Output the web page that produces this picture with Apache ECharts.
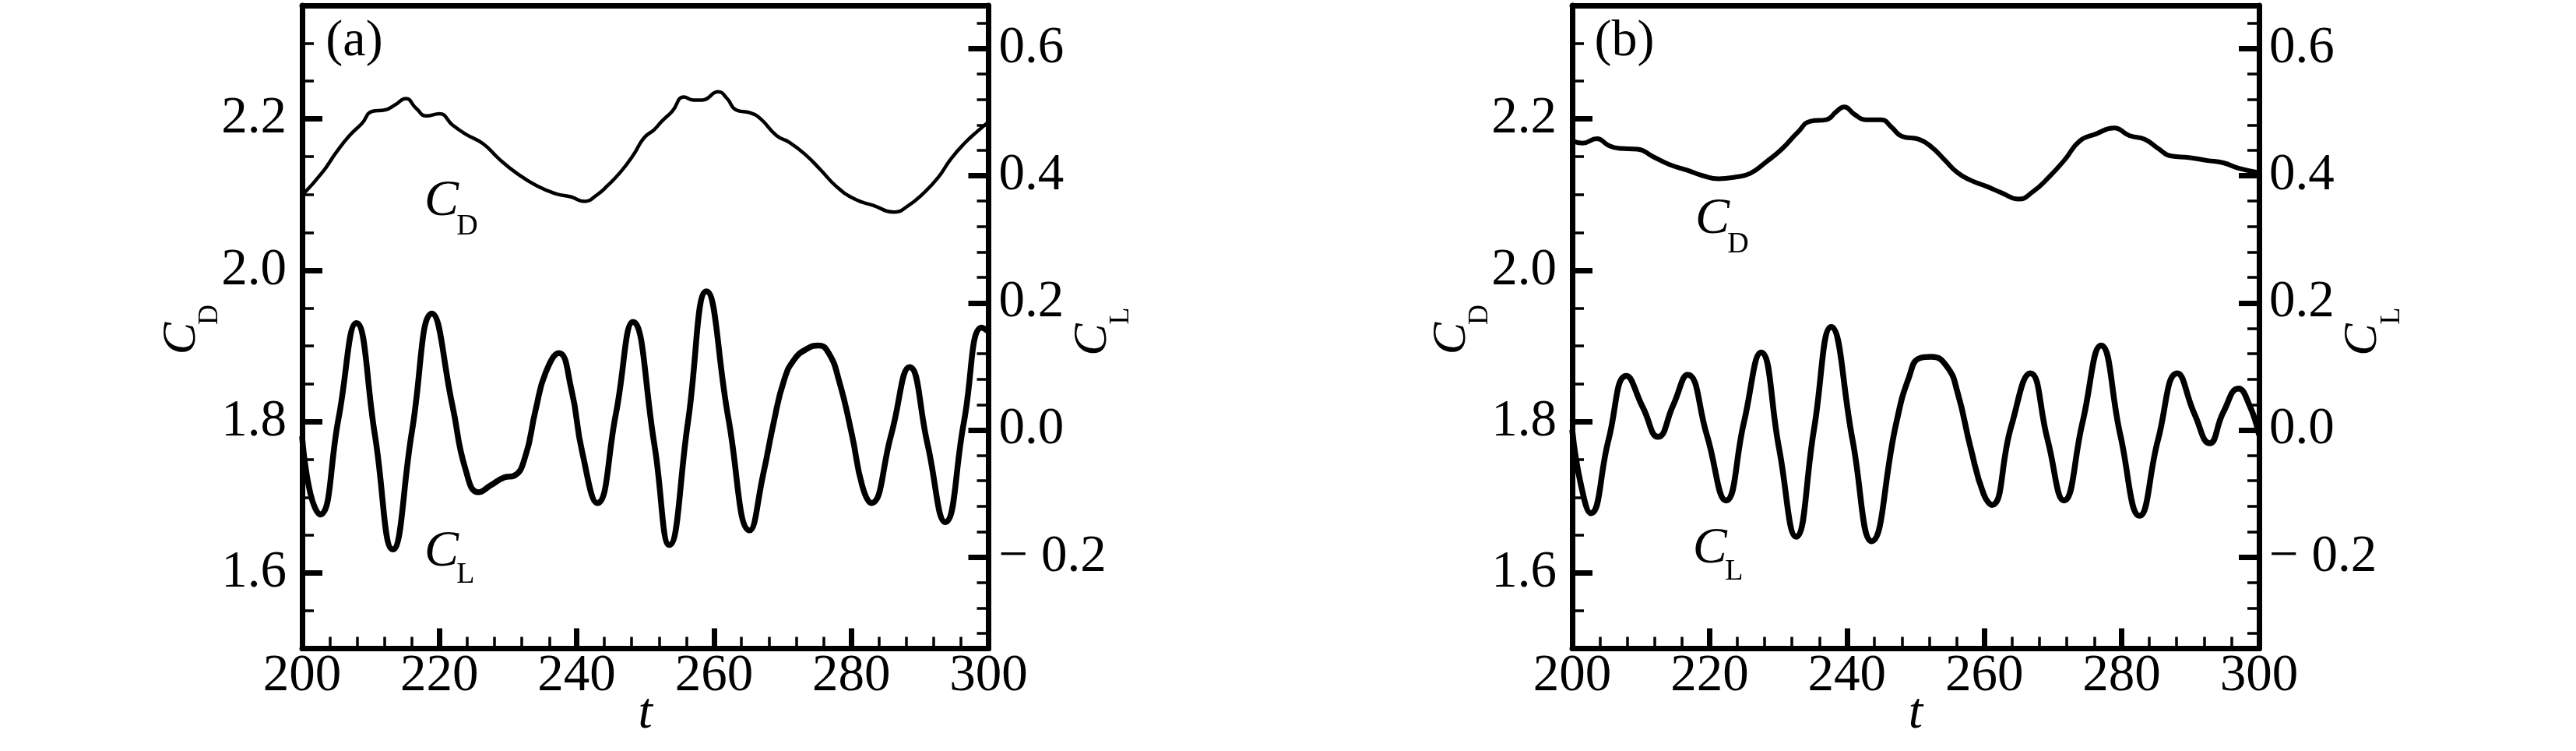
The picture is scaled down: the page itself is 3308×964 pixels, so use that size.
<!DOCTYPE html>
<html><head><meta charset="utf-8">
<script src="https://cdn.jsdelivr.net/npm/echarts@6/dist/echarts.min.js"></script>
<style>html,body{margin:0;padding:0;background:#fff}#c{width:3308px;height:964px}</style>
</head><body><div id="c"></div>
<script>
// ---------- data ----------
const tA_CL = [200, 201.2, 202.6, 205.3, 207.9, 210.6, 213.2, 216.0, 218.9, 221.9, 223.8, 225.7, 227.5, 229.4, 230.9, 232.5, 234.0, 235.5, 237.4, 239.2, 240.8, 243.0, 245.7, 248.2, 251.3, 253.5, 256.2, 258.9, 262.1, 265.2, 267.2, 268.7, 270.2, 271.7, 273.6, 275.2, 276.7, 278.2, 280.1, 281.6, 282.9, 285.8, 288.5, 291.1, 293.7, 296.4, 299.0, 300];
const clA = [-0.01, -0.10, -0.133, 0.018, 0.168, -0.008, -0.188, -0.002, 0.183, 0.038, -0.062, -0.098, -0.087, -0.075, -0.072, -0.042, 0.031, 0.091, 0.121, 0.065, -0.035, -0.115, 0.025, 0.170, -0.022, -0.181, 0.012, 0.218, 0.018, -0.158, -0.068, 0.012, 0.078, 0.111, 0.128, 0.133, 0.121, 0.078, -0.008, -0.088, -0.115, -0.008, 0.099, -0.022, -0.145, 0.012, 0.161, 0.155];

const tA_CD = [200, 203.0, 204.9, 206.8, 208.7, 210.2, 212.1, 213.6, 215.1, 216.6, 218.1, 220.0, 221.9, 223.8, 226.4, 228.7, 231.3, 234.3, 237.0, 239.2, 241.1, 243.0, 244.5, 246.4, 248.3, 249.8, 251.3, 252.4, 253.9, 255.6, 257.0, 258.3, 260.6, 261.9, 263.2, 265.3, 266.8, 269.1, 271.0, 273.3, 275.5, 277.8, 280.5, 283.1, 286.3, 288.4, 290.3, 292.6, 294.5, 296.4, 298.3, 300];
const cdA = [2.099, 2.130, 2.155, 2.177, 2.194, 2.210, 2.212, 2.219, 2.227, 2.214, 2.204, 2.207, 2.192, 2.180, 2.167, 2.147, 2.128, 2.111, 2.101, 2.097, 2.091, 2.100, 2.112, 2.130, 2.153, 2.175, 2.186, 2.197, 2.210, 2.229, 2.225, 2.225, 2.236, 2.227, 2.212, 2.208, 2.200, 2.178, 2.169, 2.153, 2.133, 2.111, 2.094, 2.086, 2.077, 2.086, 2.100, 2.122, 2.147, 2.167, 2.183, 2.196];

const tB_CL = [200, 201.3, 202.7, 205.3, 207.9, 210.3, 212.5, 214.7, 216.8, 219.6, 222.4, 225.0, 227.5, 230.1, 232.6, 235.2, 237.7, 240.8, 243.6, 247.2, 249.0, 250.6, 252.3, 254.6, 256.1, 258.0, 259.9, 261.1, 263.9, 266.7, 269.2, 271.6, 274.3, 277.0, 279.8, 282.6, 285.3, 288.1, 290.6, 292.8, 294.8, 297.0, 298.6, 300];
const clB = [0.0, -0.088, -0.131, -0.015, 0.085, 0.035, -0.011, 0.039, 0.087, -0.008, -0.111, 0.012, 0.122, -0.028, -0.168, 0.001, 0.162, -0.015, -0.175, 0.012, 0.082, 0.113, 0.115, 0.099, 0.059, -0.028, -0.101, -0.118, 0.005, 0.089, -0.015, -0.111, 0.012, 0.133, -0.008, -0.135, -0.015, 0.089, 0.025, -0.021, 0.028, 0.065, 0.039, -0.008];

const tB_CD = [200, 201.5, 203.6, 205.3, 206.9, 209.5, 211.8, 214.1, 216.8, 219.0, 221.3, 223.6, 225.9, 228.2, 230.5, 232.8, 234.7, 237.0, 238.5, 239.6, 241.1, 242.7, 245.0, 246.5, 248.0, 250.5, 252.3, 254.2, 256.1, 258.0, 260.3, 262.6, 265.0, 267.1, 269.4, 271.7, 273.9, 276.2, 278.9, 281.1, 283.4, 285.3, 287.2, 289.8, 292.5, 294.8, 297.0, 300];
const cdB = [2.171, 2.168, 2.174, 2.165, 2.161, 2.160, 2.150, 2.140, 2.132, 2.125, 2.121, 2.123, 2.128, 2.143, 2.160, 2.182, 2.197, 2.199, 2.210, 2.216, 2.206, 2.199, 2.199, 2.189, 2.177, 2.173, 2.163, 2.146, 2.129, 2.119, 2.111, 2.102, 2.094, 2.104, 2.123, 2.146, 2.171, 2.180, 2.188, 2.178, 2.173, 2.161, 2.151, 2.149, 2.145, 2.142, 2.135, 2.129];

// tick values
const cdMajor = [1.6, 1.8, 2.0, 2.2];
const cdMinor = [1.55, 1.65, 1.7, 1.75, 1.85, 1.9, 1.95, 2.05, 2.1, 2.15, 2.25, 2.3];
const clMajor = [-0.2, 0.0, 0.2, 0.4, 0.6];
const clMinor = [-0.32, -0.28, -0.24, -0.16, -0.12, -0.08, -0.04, 0.04, 0.08, 0.12, 0.16, 0.24, 0.28, 0.32, 0.36, 0.44, 0.48, 0.52, 0.56, 0.64];
const tRange = [200, 300];
const cdRange = [1.5, 2.35];
const clRange = [-0.344, 0.668];
const panelTags = ['(a)', '(b)'];

// ---------- layout / style ----------
const FONT = '"Liberation Serif","Times New Roman",serif';
const TOP = 7, HEIGHT = 825.5;
const panels = [
  {left: 388, width: 881.5, tCL: tA_CL, cl: clA, tCD: tA_CD, cd: cdA, cdW: 4.5,
   lblCD: [220.3, 2.0905], lblCL: [220.3, 1.6272]},
  {left: 2019, width: 882, tCL: tB_CL, cl: clB, tCD: tB_CD, cd: cdB, cdW: 6,
   lblCD: [220.4, 2.0668], lblCL: [220.05, 1.6313]}
];
const zip = (a, b) => a.map((v, i) => [v, b[i]]);
const fmtCL = v => (v < -1e-9 ? '\u2212 ' + Math.abs(v).toFixed(1) : Math.abs(v).toFixed(1));

const grid = [], xAxis = [], yAxis = [], series = [];
panels.forEach((p, i) => {
  grid.push({left: p.left, top: TOP, width: p.width, height: HEIGHT, outerBoundsMode: 'none'});
  xAxis.push({
    type: 'value', gridIndex: i, position: 'bottom', min: tRange[0], max: tRange[1], interval: 20,
    axisLine: {onZero: false, lineStyle: {color: '#000', width: 7}},
    axisTick: {inside: true, length: 26, lineStyle: {color: '#000', width: 7}},
    minorTick: {show: true, splitNumber: 5, length: 15, lineStyle: {color: '#000', width: 3.5}},
    axisLabel: {fontFamily: FONT, fontSize: 67, color: '#000', margin: 2},
    splitLine: {show: false}, minorSplitLine: {show: false}
  });
  xAxis.push({
    type: 'value', gridIndex: i, position: 'top', min: tRange[0], max: tRange[1],
    axisLine: {onZero: false, lineStyle: {color: '#000', width: 7}},
    axisTick: {show: false}, axisLabel: {show: false}, splitLine: {show: false}
  });
  // CD major (left)
  yAxis.push({
    type: 'value', gridIndex: i, position: 'left', min: cdRange[0], max: cdRange[1],
    axisLine: {show: true, onZero: false, lineStyle: {color: '#000', width: 7}},
    axisTick: {show: true, inside: true, length: 26, customValues: cdMajor, lineStyle: {color: '#000', width: 7}},
    axisLabel: {customValues: cdMajor, formatter: v => v.toFixed(1), fontFamily: FONT, fontSize: 67, color: '#000', margin: 20},
    splitLine: {show: false}
  });
  // CD minor
  yAxis.push({
    type: 'value', gridIndex: i, position: 'left', min: cdRange[0], max: cdRange[1],
    axisLine: {show: false, onZero: false},
    axisTick: {show: true, inside: true, length: 15, customValues: cdMinor, lineStyle: {color: '#000', width: 3.5}},
    axisLabel: {show: false}, splitLine: {show: false}
  });
  // CL major (right)
  yAxis.push({
    type: 'value', gridIndex: i, position: 'right', min: clRange[0], max: clRange[1],
    axisLine: {show: true, onZero: false, lineStyle: {color: '#000', width: 7}},
    axisTick: {show: true, inside: true, length: 26, customValues: clMajor, lineStyle: {color: '#000', width: 7}},
    axisLabel: {customValues: clMajor, formatter: fmtCL, fontFamily: FONT, fontSize: 67, color: '#000', margin: 13},
    splitLine: {show: false}
  });
  // CL minor
  yAxis.push({
    type: 'value', gridIndex: i, position: 'right', min: clRange[0], max: clRange[1],
    axisLine: {show: false, onZero: false},
    axisTick: {show: true, inside: true, length: 15, customValues: clMinor, lineStyle: {color: '#000', width: 3.5}},
    axisLabel: {show: false}, splitLine: {show: false}
  });
  series.push({
    type: 'line', name: 'CD' + i, xAxisIndex: 2 * i, yAxisIndex: 4 * i, data: zip(p.tCD, p.cd),
    showSymbol: false, smooth: 0.5, lineStyle: {color: '#000', width: p.cdW}, z: 3
  });
  series.push({
    type: 'line', name: 'CL' + i, xAxisIndex: 2 * i, yAxisIndex: 4 * i + 2, data: zip(p.tCL, p.cl),
    showSymbol: false, smooth: 0.5, lineStyle: {color: '#000', width: 7.5}, z: 3
  });
});

const chart = echarts.init(document.getElementById('c'), null, {renderer: 'canvas'});
chart.setOption({animation: false, backgroundColor: '#fff', grid, xAxis, yAxis, series});

// ---------- annotations ----------
function txt(x, y, text, size, italic, rot) {
  return {
    type: 'text', x, y, rotation: rot || 0, z: 100, silent: true,
    style: {text, font: (italic ? 'italic ' : '') + size + 'px ' + FONT, fill: '#000',
            textAlign: 'center', textVerticalAlign: 'middle', align: 'center', verticalAlign: 'middle'}
  };
}
const graphic = [];
panels.forEach((p, i) => {
  const right = p.left + p.width;
  graphic.push(txt(p.left + 67, TOP + 47, panelTags[i], 66, false));
  graphic.push(txt(p.left + p.width / 2, 917, 't', 66, true));
  graphic.push(txt(p.left - 154, 434.5, 'C', 62, true, Math.PI / 2));
  graphic.push(txt(p.left - 118.5, 404, 'D', 36, false, Math.PI / 2));
  graphic.push(txt(right + 134, 436, 'C', 62, true, Math.PI / 2));
  graphic.push(txt(right + 170.5, 405.5, 'L', 36, false, Math.PI / 2));
  const pd = chart.convertToPixel({seriesIndex: 2 * i}, p.lblCD);
  graphic.push(txt(pd[0], pd[1], 'C', 66, true));
  graphic.push(txt(pd[0] + 33, pd[1] + 32, 'D', 38, false));
  const pl = chart.convertToPixel({seriesIndex: 2 * i}, p.lblCL);
  graphic.push(txt(pl[0], pl[1], 'C', 66, true));
  graphic.push(txt(pl[0] + 31, pl[1] + 29, 'L', 38, false));
});
chart.setOption({graphic});
</script>
</body></html>
